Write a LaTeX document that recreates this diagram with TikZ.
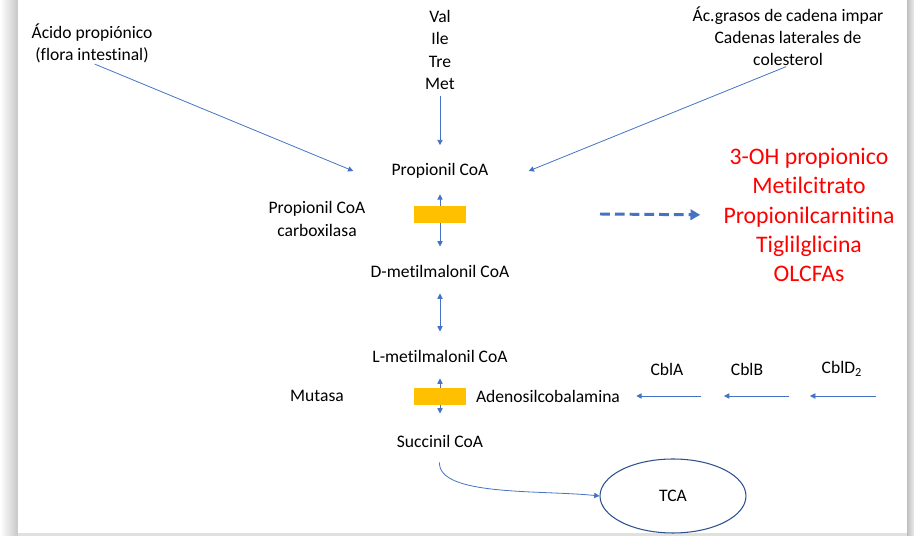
\documentclass[tikz,border=0pt]{standalone}
\usepackage{fontspec}
\setmainfont{Carlito}[Ligatures=NoCommon]
\usetikzlibrary{arrows.meta,shapes.geometric}
\definecolor{lineblue}{HTML}{4472C4}
\definecolor{ringblue}{HTML}{2F528F}
\definecolor{enzyellow}{HTML}{FFC000}

\begin{document}
\begin{tikzpicture}[x=0.02cm,y=-0.02cm,
  lbl/.style={inner sep=0pt,align=center,font=\fontsize{10}{12.6}\selectfont},
  marker/.style={red,inner sep=0pt,align=center,font=\fontsize{13.5}{16.6}\selectfont},
  enz/.style={fill=enzyellow,inner sep=0pt,minimum width=1.06cm,minimum height=0.34cm},
  arr/.style={lineblue,line width=0.45pt,-{Triangle[length=3pt,width=3pt]}},
  biarr/.style={lineblue,line width=0.45pt,{Triangle[length=3pt,width=3pt]}-{Triangle[length=3pt,width=3pt]}}]

% Page
\useasboundingbox (0,0) rectangle (914,536);
\shade[left color=white,right color=black!22] (0,0) rectangle (18,536);
\shade[left color=black!25,right color=black!8] (907,0) rectangle (914,536);
\fill[white] (18,0) rectangle (907,533);
\fill[black!12] (18,533) rectangle (907,536);

% Sources
\node[lbl] (acido) at (92,43) {Ácido propiónico\\(flora intestinal)};
\node[lbl] (aa) at (440,50) {Val\\Ile\\Tre\\Met};
\node[lbl] (grasos) at (788,36) {Ác.grasos de cadena impar\\Cadenas laterales de\\colesterol};

% Pathway
\node[lbl] (pcoa) at (440,171) {Propionil CoA};
\node[lbl] (dmm) at (440,271) {D-metilmalonil CoA};
\node[lbl] (lmm) at (440,356) {L-metilmalonil CoA};
\node[lbl] (succ) at (440,441) {Succinil CoA};
\node[ellipse,draw=ringblue,line width=0.6pt,minimum width=2.92cm,minimum height=1.48cm,
  font=\fontsize{10}{12.6}\selectfont] (tca) at (673,496) {TCA};

% Cofactor chain
\node[lbl] (pcclbl) at (317,219) {Propionil CoA\\carboxilasa};
\node[lbl] (mutlbl) at (317,396) {Mutasa};
\node[lbl] (ado) at (548,396) {Adenosilcobalamina};
\node[lbl] (cbla) at (667,369) {CblA};
\node[lbl] (cblb) at (747,369) {CblB};
\node[lbl] (cbld) at (842,369) {CblD\textsubscript{2}};
\coordinate (ca) at (701,396);
\coordinate (cb) at (789,396);
\coordinate (cbend) at (724,396);
\coordinate (cd) at (876,396);
\coordinate (cdend) at (810,396);

% Markers
\node[marker] (markers) at (809,215) {3-OH propionico\\Metilcitrato\\Propionilcarnitina\\Tiglilglicina\\OLCFAs};
\coordinate (dstart) at (600,214);

% Arrows
\draw[arr,shorten <=0.06cm] (acido.south) -- ([xshift=-0.76cm]pcoa.west);
\draw[arr,shorten <=0.12cm,shorten >=0.36cm] (aa.south) -- (pcoa.north);
\draw[arr,shorten <=0.04cm] (grasos.south) -- ([xshift=0.8cm]pcoa.east);
\draw[biarr,shorten <=0.31cm,shorten >=0.36cm] (pcoa.south) -- (dmm.north);
\draw[biarr,shorten <=0.32cm,shorten >=0.36cm] (dmm.south) -- (lmm.north);
\draw[biarr,shorten <=0.32cm,shorten >=0.42cm] (lmm.south) -- (succ.north);
\draw[arr,shorten >=0.32cm] (ca) -- (ado.east);
\draw[arr] (cb) -- (cbend);
\draw[arr,line width=0.3pt] (cd) -- (cdend);
\draw[arr,shorten <=0.3cm] (succ.south) to[out=-92,in=174,out looseness=0.75,in looseness=0.9] (tca.west);
\draw[lineblue,line width=1.7pt,dash pattern=on 5.6pt off 2.8pt,
  -{Triangle[length=5.5pt,width=6pt]},shorten >=0.46cm] (dstart) -- (markers.west);

% Enzymes
\node[enz] (pcc) at (440,215) {};
\node[enz] (mut) at (440,397) {};

\end{tikzpicture}
\end{document}
